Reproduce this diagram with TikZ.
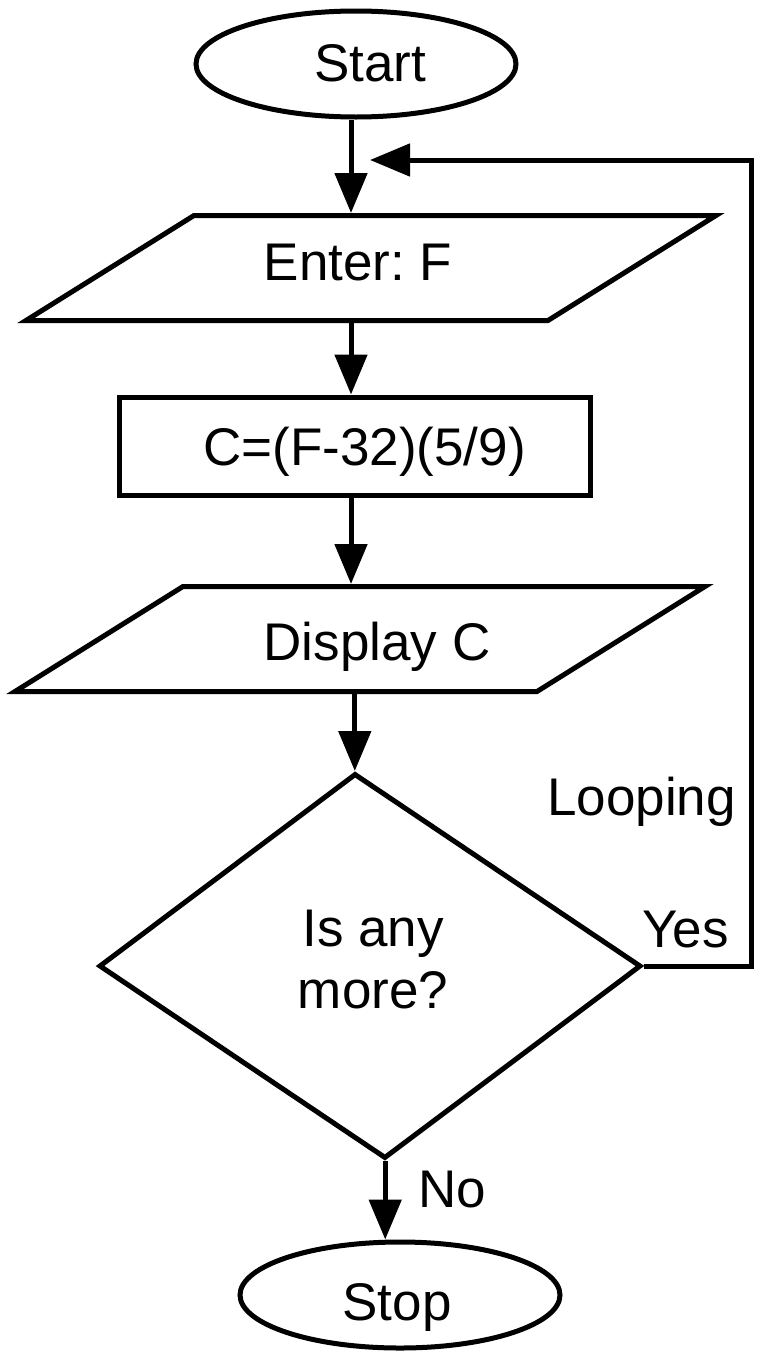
\documentclass[tikz,border=0pt]{standalone}
\usepackage{fontspec}
\setmainfont{Liberation Sans}
\usetikzlibrary{shapes.geometric,arrows.meta}
\frenchspacing

% outline of an input/output box (parallelogram) around a named node
\newcommand\ioframe[1]{%
  \draw[shape line, line join=miter]
    ([shift={(-345,52.5)}]#1.center) -- ([shift={(-177,-52.5)}]#1.center) --
    ([shift={(345,-52.5)}]#1.center) -- ([shift={(177,52.5)}]#1.center) -- cycle;}

\begin{document}
\begin{tikzpicture}[x=1pt, y=-1pt,
  every node/.style={font=\fontsize{53}{62}\selectfont, inner sep=0pt},
  shape line/.style={line width=5pt},
  % move the text inside a node: horizontal space, vertical raise
  nudge/.style 2 args={execute at begin node={\hspace*{#1}\raise#2\hbox\bgroup},
                       execute at end node={\egroup}},
  terminal/.style={ellipse, draw, line width=5pt, minimum width=320pt,
                   minimum height=106pt, text height=38pt, text depth=0pt},
  process/.style={rectangle, draw, line width=5pt, minimum width=471pt,
                  minimum height=98pt, text height=38pt, text depth=0pt},
  io/.style={rectangle, minimum width=522pt, minimum height=105pt,
             outer sep=2.5pt, text height=38pt, text depth=0pt},
  decision/.style={diamond, draw, line width=5pt, minimum width=542pt,
                   minimum height=385pt, transform shape},
  flow/.style={line width=5pt, -{Triangle[length=40pt,width=32pt]}}]

\useasboundingbox (0,0) rectangle (760,1352);
\fill[white] (0,0) rectangle (760,1352);

% flowchart blocks
\coordinate (axis) at (351,0);
\node[terminal, nudge={28pt}{2pt}] (start) at (356,64) {Start};
\node[io, nudge={-26pt}{7pt}] (enter) at (371,268) {Enter: F};
\ioframe{enter}
\node[process, nudge={20pt}{0pt}] (calc) at (354.5,446) {C=(F-32)(5/9)};
\node[io, nudge={34pt}{-2pt}] (disp) at (360,639) {Display C};
\ioframe{disp}
\begin{scope}[shift={(370,966)}, xslant=-0.078]
  \node[decision] (dec) at (0,0) {};
\end{scope}
\node[align=center] (ask) at (373,960) {Is any\\more?};
\node[terminal, nudge={-6pt}{-6pt}] (stop) at (400,1295) {Stop};

% connectors
\draw[flow] (start.south -| axis) -- (enter.north -| axis);
\draw[flow] (enter.south -| axis) -- (calc.north -| axis);
\draw[flow] (calc.south -| axis) -- (disp.north -| axis);
\draw[flow] (disp.south -| dec.north) -- (dec.north);
\draw[flow] (dec.south) -- (dec.south |- stop.north);

% loop back to the input
\coordinate (loopcorner) at (751,160);
\coordinate (merge) at (370,160);
\draw[flow] (dec.east) -| (loopcorner) -- (merge);

% labels
\node[anchor=base east] (looplbl) at (736,815) {Looping};
\node[anchor=base west] (yeslbl) at (642,947) {Yes};
\node[anchor=base west] (nolbl) at (418,1207) {No};
\end{tikzpicture}
\end{document}
